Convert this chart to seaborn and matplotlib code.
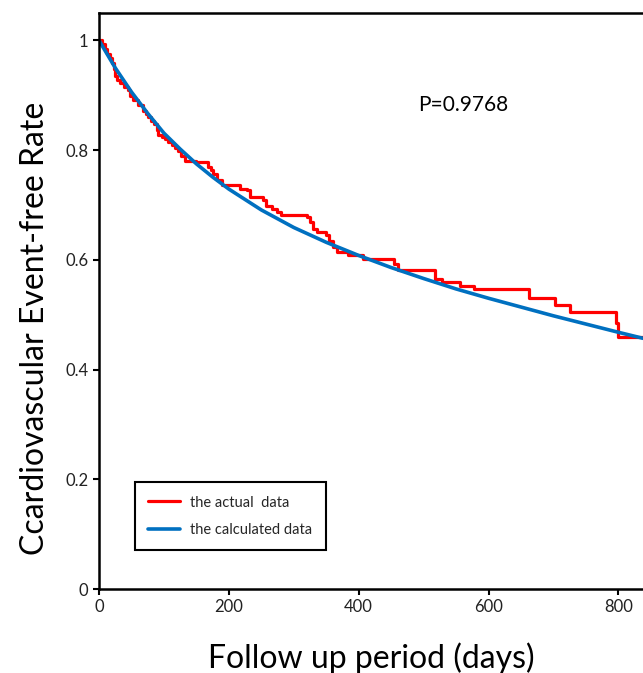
import pandas as pd
import matplotlib.pyplot as plt
import seaborn as sns

# Kaplan-Meier style step data
actual_days = [0, 5, 9, 13, 17, 20, 23, 25, 27, 33, 38, 45, 48, 53, 60, 68, 72, 76,
               80, 84, 89, 91, 97, 102, 107, 112, 117, 122, 127, 132, 150, 168, 172,
               176, 182, 189, 217, 228, 233, 253, 258, 266, 274, 280, 320, 325, 330,
               336, 350, 355, 361, 366, 384, 407, 455, 461, 518, 528, 556, 577, 662,
               702, 725, 797, 800, 838]
actual_rate = [1.0, 0.994, 0.985, 0.976, 0.968, 0.958, 0.947, 0.935, 0.927, 0.922,
               0.915, 0.909, 0.898, 0.891, 0.882, 0.872, 0.866, 0.860, 0.854, 0.848,
               0.836, 0.827, 0.824, 0.821, 0.815, 0.809, 0.804, 0.798, 0.790, 0.781,
               0.778, 0.769, 0.763, 0.757, 0.746, 0.736, 0.730, 0.727, 0.715, 0.709,
               0.699, 0.693, 0.687, 0.681, 0.678, 0.669, 0.657, 0.651, 0.645, 0.635,
               0.624, 0.614, 0.608, 0.602, 0.593, 0.581, 0.566, 0.560, 0.552, 0.546,
               0.530, 0.517, 0.505, 0.484, 0.459, 0.459]

# calculated curve
calc_days = [0, 25, 50, 75, 100, 125, 150, 175, 200, 250, 300, 350, 400, 450, 500,
             550, 600, 650, 700, 750, 800, 838]
calc_rate = [1.0, 0.95, 0.906, 0.867, 0.831, 0.802, 0.775, 0.751, 0.729, 0.691, 0.659,
             0.632, 0.608, 0.586, 0.566, 0.547, 0.530, 0.514, 0.498, 0.483, 0.468, 0.457]

p_text = "P=0.9768"

sns.set_theme(style="white")
plt.rcParams['font.family'] = ['Lato', 'DejaVu Sans']

fig = plt.figure(figsize=(6.43, 6.73), dpi=100)
ax = fig.add_axes([0.154, 0.1248, 0.846, 0.8559])

df_a = pd.DataFrame({'day': actual_days, 'rate': actual_rate})
df_c = pd.DataFrame({'day': calc_days, 'rate': calc_rate})

sns.lineplot(data=df_a, x='day', y='rate', ax=ax, color='#FF0000', linewidth=2.3,
             drawstyle='steps-post', label='the actual  data')
sns.lineplot(data=df_c, x='day', y='rate', ax=ax, color='#0070C0', linewidth=2.6,
             label='the calculated data')

ax.set_xlim(0, 838)
ax.set_ylim(0, 1.05)
ax.set_xticks([0, 200, 400, 600, 800])
ax.set_yticks([0, 0.2, 0.4, 0.6, 0.8, 1.0])
ax.set_yticklabels(['0', '0.2', '0.4', '0.6', '0.8', '1'])

for side in ['left', 'bottom', 'top']:
    ax.spines[side].set_color('black')
    ax.spines[side].set_linewidth(1.8)
ax.spines['right'].set_visible(False)

ax.tick_params(axis='both', direction='out', length=4, width=1.5, color='black',
               labelsize=12, labelcolor='#222222', bottom=True, left=True)

ax.set_xlabel('Follow up period (days)', fontsize=23, color='black')
ax.set_ylabel('Ccardiovascular Event-free Rate', fontsize=23, color='black')
ax.xaxis.set_label_coords(0.5, -0.092)
ax.yaxis.set_label_coords(-0.09, 0.453)

ax.text(491, 0.883, p_text, fontsize=15, va='center', ha='left', color='black')

leg = ax.legend(loc='lower left', bbox_to_anchor=(0.066, 0.068), borderaxespad=0,
                fancybox=False, framealpha=1, edgecolor='black', fontsize=10.5,
                handlelength=2.2, borderpad=0.9, labelspacing=0.9, handletextpad=0.7)
leg.get_frame().set_linewidth(1.5)

fig.savefig('out.png', dpi=100)
